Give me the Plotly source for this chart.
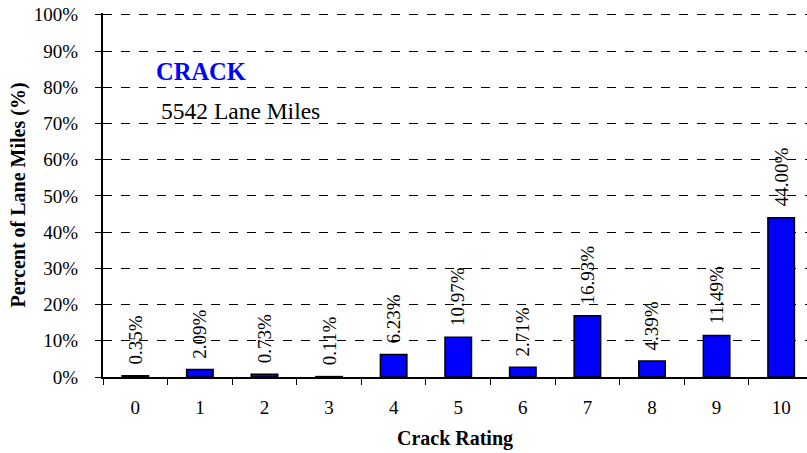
import plotly.graph_objects as go

ratings = ["0", "1", "2", "3", "4", "5", "6", "7", "8", "9", "10"]
percents = [0.35, 2.09, 0.73, 0.11, 6.23, 10.97, 2.71, 16.93, 4.39, 11.49, 44.00]
labels = ["0.35%", "2.09%", "0.73%", "0.11%", "6.23%", "10.97%", "2.71%", "16.93%", "4.39%", "11.49%", "44.00%"]
y_ticks = [0, 10, 20, 30, 40, 50, 60, 70, 80, 90, 100]

FONT = "Liberation Serif"

fig = go.Figure()
fig.add_trace(go.Bar(
    x=ratings, y=percents, width=0.41,
    marker=dict(color="#0000FF", line=dict(color="black", width=1.5)),
    hoverinfo="skip", showlegend=False,
))

for r, p, t in zip(ratings, percents, labels):
    fig.add_annotation(x=r, y=p, text=t, textangle=-90, showarrow=False,
                       xanchor="center", yanchor="bottom", yshift=9,
                       font=dict(family=FONT, size=19, color="black"))

fig.add_annotation(xref="paper", yref="paper", x=0.073, y=0.84, text="<b>CRACK</b>",
                   showarrow=False, xanchor="left", yanchor="middle",
                   font=dict(family=FONT, size=24.5, color="#0000FF"))
fig.add_annotation(xref="paper", yref="paper", x=0.079, y=0.731, text="5542 Lane Miles",
                   showarrow=False, xanchor="left", yanchor="middle",
                   font=dict(family=FONT, size=23.5, color="black"))

fig.update_layout(
    width=807, height=453,
    margin=dict(l=103, r=0, t=13, b=76, autoexpand=False),
    paper_bgcolor="white", plot_bgcolor="white",
    font=dict(family=FONT, size=19, color="black"),
)
fig.update_xaxes(
    type="category", range=[-0.5, 10.4], automargin=False,
    showline=True, linecolor="black", linewidth=2,
    ticks="outside", tickson="boundaries", ticklen=6, tickcolor="black", tickwidth=1,
    ticklabelstandoff=12,
    tickfont=dict(family=FONT, size=19),
    showgrid=False, zeroline=False,
    title=dict(text="<b>Crack Rating</b>", font=dict(family=FONT, size=20), standoff=14),
)
fig.update_yaxes(
    range=[0, 100.5], tickvals=y_ticks, ticktext=[f"{v}%" for v in y_ticks], automargin=False,
    ticklabeloverflow="allow",
    showline=True, linecolor="black", linewidth=2,
    ticks="outside", ticklen=6, tickcolor="black",
    ticklabelstandoff=13,
    tickfont=dict(family=FONT, size=19),
    showgrid=True, gridcolor="black", griddash="dash", gridwidth=1,
    zeroline=False,
    title=dict(text="<b>Percent of Lane Miles (%)</b>", font=dict(family=FONT, size=20), standoff=3),
)

# remove the browser's default 8px body margin so the figure sits at the page origin
fig.write_html("out.html", config={"displayModeBar": False},
               post_script="document.body.style.margin='0';")
